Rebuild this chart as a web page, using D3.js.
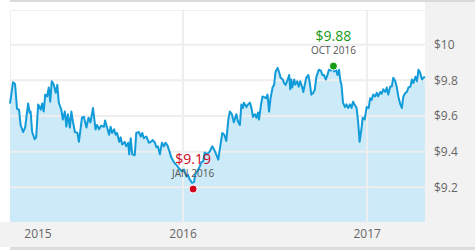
<!DOCTYPE html>
<html>
<head>
<meta charset="utf-8">
<script src="https://cdn.jsdelivr.net/npm/d3@7"></script>
<style>
body{margin:0;background:#fff;}
svg{display:block;font-family:"Open Sans",sans-serif;}
</style>
</head>
<body>
<svg id="chart" width="475" height="250"></svg>
<script>
// price history
var dates = [
 "2015-01-22","2015-01-28","2015-02-01","2015-02-05","2015-02-09","2015-02-12","2015-02-17","2015-02-21","2015-02-27","2015-03-02",
 "2015-03-04","2015-03-07","2015-03-12","2015-03-15","2015-03-19","2015-03-22","2015-03-24","2015-03-27","2015-03-30","2015-04-02",
 "2015-04-06","2015-04-09","2015-04-12","2015-04-15","2015-04-19","2015-04-23","2015-04-26","2015-04-29","2015-05-04","2015-05-07",
 "2015-05-11","2015-05-14","2015-05-17","2015-05-21","2015-05-24","2015-05-27","2015-05-31","2015-06-05","2015-06-08","2015-06-14",
 "2015-06-18","2015-06-23","2015-06-27","2015-07-01","2015-07-06","2015-07-11","2015-07-14","2015-07-18","2015-07-22","2015-07-28",
 "2015-07-30","2015-08-03","2015-08-07","2015-08-10","2015-08-13","2015-08-17","2015-08-20","2015-08-23","2015-08-27","2015-08-30",
 "2015-09-02","2015-09-07","2015-09-10","2015-09-14","2015-09-16","2015-09-19","2015-09-22","2015-09-27","2015-09-30","2015-10-05",
 "2015-10-09","2015-10-12","2015-10-15","2015-10-20","2015-10-25","2015-10-29","2015-11-02","2015-11-06","2015-11-09","2015-11-12",
 "2015-11-16","2015-11-20","2015-11-24","2015-11-27","2015-12-01","2015-12-04","2015-12-09","2015-12-14","2015-12-19","2015-12-23",
 "2015-12-29",
 "2016-01-03","2016-01-08","2016-01-11","2016-01-14","2016-01-19","2016-01-23","2016-01-25","2016-01-31","2016-02-03","2016-02-06",
 "2016-02-10","2016-02-13","2016-02-18","2016-02-23","2016-02-28","2016-03-03","2016-03-07","2016-03-11","2016-03-19","2016-03-23",
 "2016-03-27","2016-03-31","2016-04-03","2016-04-07","2016-04-11","2016-04-16","2016-04-19","2016-04-23","2016-04-26","2016-04-29",
 "2016-05-01","2016-05-06","2016-05-09","2016-05-13","2016-05-16","2016-05-19","2016-05-23","2016-05-26","2016-05-29","2016-05-31",
 "2016-06-04","2016-06-07","2016-06-11","2016-06-14","2016-06-17","2016-06-20","2016-06-23","2016-06-27","2016-06-30","2016-07-03",
 "2016-07-07","2016-07-10","2016-07-13","2016-07-17","2016-07-20","2016-07-23","2016-07-27","2016-07-30","2016-08-01","2016-08-03",
 "2016-08-05","2016-08-09","2016-08-11","2016-08-15","2016-08-18","2016-08-21","2016-08-25","2016-08-27","2016-08-30","2016-09-02",
 "2016-09-06","2016-09-09","2016-09-12","2016-09-16","2016-09-19","2016-09-22","2016-09-27","2016-10-01","2016-10-04","2016-10-07",
 "2016-10-11","2016-10-14","2016-10-17","2016-10-21","2016-10-24","2016-10-27","2016-10-31","2016-11-03","2016-11-06","2016-11-09",
 "2016-11-11","2016-11-14","2016-11-18","2016-11-21","2016-11-24","2016-11-28","2016-12-01","2016-12-04","2016-12-07","2016-12-11",
 "2016-12-14","2016-12-17","2016-12-21","2016-12-23","2016-12-27","2016-12-31",
 "2017-01-04","2017-01-07","2017-01-10","2017-01-13","2017-01-17","2017-01-20","2017-01-23","2017-01-27","2017-01-30","2017-02-02",
 "2017-02-06","2017-02-09","2017-02-12","2017-02-16","2017-02-19","2017-02-22","2017-02-26","2017-03-01","2017-03-04","2017-03-08",
 "2017-03-11","2017-03-14","2017-03-18","2017-03-21","2017-03-24","2017-03-28","2017-03-31","2017-04-03","2017-04-07","2017-04-10",
 "2017-04-13","2017-04-16","2017-04-20","2017-04-23","2017-04-26"
];
var prices = [
 9.67,9.79,9.78,9.64,9.635,9.55,9.51,9.535,9.67,9.62,
 9.625,9.51,9.47,9.48,9.665,9.65,9.635,9.67,9.625,9.72,
 9.71,9.76,9.68,9.795,9.775,9.73,9.775,9.675,9.635,9.58,
 9.625,9.54,9.61,9.535,9.625,9.57,9.51,9.505,9.455,9.59,
 9.595,9.535,9.59,9.565,9.645,9.525,9.55,9.525,9.545,9.54,
 9.575,9.535,9.495,9.54,9.505,9.525,9.495,9.505,9.455,9.48,
 9.44,9.455,9.43,9.45,9.385,9.475,9.385,9.38,9.505,9.51,
 9.485,9.505,9.475,9.485,9.45,9.455,9.465,9.45,9.425,9.43,
 9.385,9.45,9.43,9.45,9.435,9.41,9.365,9.34,9.325,9.31,
 9.29,
 9.30,9.26,9.27,9.245,9.225,9.23,9.27,9.30,9.315,9.34,
 9.345,9.395,9.385,9.40,9.43,9.41,9.385,9.355,9.505,9.495,
 9.46,9.58,9.625,9.61,9.565,9.61,9.57,9.55,9.665,9.645,
 9.675,9.65,9.665,9.675,9.645,9.595,9.61,9.59,9.62,9.58,
 9.665,9.71,9.705,9.70,9.72,9.625,9.70,9.76,9.775,9.85,
 9.87,9.845,9.815,9.805,9.785,9.775,9.805,9.83,9.75,9.805,
 9.76,9.805,9.775,9.795,9.765,9.795,9.76,9.735,9.775,9.815,
 9.83,9.785,9.72,9.73,9.75,9.82,9.86,9.855,9.83,9.83,
 9.805,9.83,9.86,9.855,9.875,9.85,9.86,9.83,9.86,9.795,
 9.775,9.675,9.65,9.665,9.645,9.665,9.645,9.68,9.665,9.645,
 9.57,9.455,9.535,9.59,9.58,9.65,
 9.645,9.70,9.69,9.72,9.71,9.73,9.71,9.735,9.725,9.75,
 9.735,9.76,9.72,9.765,9.765,9.815,9.795,9.76,9.71,9.665,
 9.645,9.71,9.73,9.735,9.76,9.765,9.805,9.785,9.82,9.795,
 9.86,9.845,9.805,9.815,9.82
];
var yTicks = [9.2, 9.4, 9.6, 9.8, 10];
var xTicks = ["2015-01-01", "2016-01-01", "2017-01-01"];
var xLabels = ["2015", "2016", "2017"];
// high / low call-outs
var hiDate = "2016-10-26", hiValue = 9.88, hiMonth = "OCT 2016";
var loDate = "2016-01-21", loValue = 9.19, loMonth = "JAN 2016";

var W = 475, H = 250;
var plotL = 10, plotR = 425, plotT = 10, plotB = 222;
var parse = d3.timeParse("%Y-%m-%d");

var data = dates.map(function(d, i){ return {date: parse(d), value: prices[i]}; });

var x = d3.scaleTime()
    .domain([parse(dates[0]), parse(dates[dates.length-1])])
    .range([plotL, plotR]);
var y = d3.scaleLinear()
    .domain([9.005, 10.195])
    .range([plotB, plotT]);

var svg = d3.select("#chart");

// frame pieces
svg.append("rect").attr("x",0).attr("y",0).attr("width",W).attr("height",H).attr("fill","#fff");
svg.append("rect").attr("x",plotL).attr("y",0).attr("width",W-plotL).attr("height",2).attr("fill","#dadada");
svg.append("rect").attr("x",plotR).attr("y",2).attr("width",W-plotR).attr("height",plotB-2).attr("fill","#f2f2f2");
svg.append("rect").attr("x",0).attr("y",plotB).attr("width",W).attr("height",H-plotB-3).attr("fill","#f2f2f2");
svg.append("rect").attr("x",plotL).attr("y",H-3).attr("width",W-plotL).attr("height",3).attr("fill","#dcdcdc");
svg.append("path").attr("d","M"+(plotL+0.5)+","+plotB+"V"+(plotT+0.5)+"H"+plotR)
    .attr("fill","none").attr("stroke","#eeeeee").attr("stroke-width",1);

// area under price
var area = d3.area()
    .x(function(d){ return x(d.date); })
    .y0(plotB)
    .y1(function(d){ return y(d.value); });
svg.append("path").datum(data).attr("d", area).attr("fill","#cceaf7");

// grid
svg.selectAll(".hgrid").data(yTicks).enter().append("line")
    .attr("class","hgrid")
    .attr("x1",plotL).attr("x2",plotR)
    .attr("y1",function(d){ return y(d); }).attr("y2",function(d){ return y(d); })
    .attr("stroke","#eeeeee").attr("stroke-width",2);
svg.selectAll(".vgrid").data(xTicks).enter().append("line")
    .attr("class","vgrid")
    .attr("x1",function(d){ return x(parse(d)); }).attr("x2",function(d){ return x(parse(d)); })
    .attr("y1",plotT).attr("y2",plotB)
    .attr("stroke","#eeeeee").attr("stroke-width",2)
    .style("display",function(d){ return x(parse(d)) < plotL ? "none" : null; });

// price line
var line = d3.line()
    .x(function(d){ return x(d.date); })
    .y(function(d){ return y(d.value); });
svg.append("path").datum(data).attr("d", line)
    .attr("fill","none").attr("stroke","#129bd9").attr("stroke-width",2)
    .attr("stroke-linejoin","round");

// y axis labels
var fmt = d3.format(".2~f");
svg.selectAll(".ylab").data(yTicks).enter().append("text")
    .attr("class","ylab")
    .attr("x",plotR+9).attr("y",function(d){ return y(d); })
    .attr("dy","0.36em")
    .attr("font-size",12).attr("fill","#666")
    .text(function(d){ return "$" + fmt(d); });

// x axis labels
svg.selectAll(".xlab").data(xTicks).enter().append("text")
    .attr("class","xlab")
    .attr("x",function(d){ return Math.max(x(parse(d)), plotL + 28); })
    .attr("y",plotB+16)
    .attr("text-anchor","middle")
    .attr("font-size",12).attr("fill","#666")
    .text(function(d, i){ return xLabels[i]; });

// call-outs
function callout(dt, val, month, colour){
    var cx = x(parse(dt)), cy = y(val);
    svg.append("text").attr("x",cx).attr("y",cy-25)
        .attr("text-anchor","middle").attr("font-size",14).attr("fill",colour)
        .text("$" + val.toFixed(2));
    svg.append("text").attr("x",cx).attr("y",cy-12.5)
        .attr("text-anchor","middle").attr("font-size",10).attr("fill","#555")
        .text(month);
    svg.append("circle").attr("cx",cx).attr("cy",cy).attr("r",4)
        .attr("fill",colour).attr("stroke","#fff").attr("stroke-width",1);
}
callout(hiDate, hiValue, hiMonth, "#169b16");
callout(loDate, loValue, loMonth, "#d0021b");
</script>
</body>
</html>
